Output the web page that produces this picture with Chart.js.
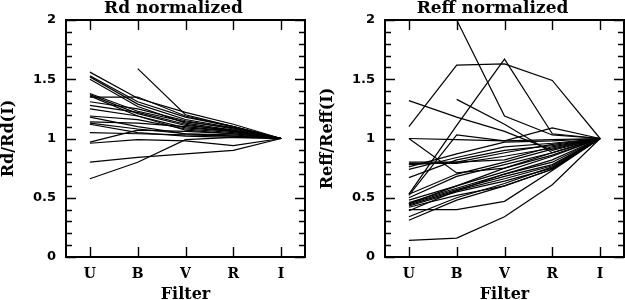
<!DOCTYPE html>
<html><head><meta charset="utf-8">
<script src="https://cdn.jsdelivr.net/npm/chart.js@4"></script>
<style>
html,body{margin:0;padding:0;background:#fff;}
#wrap{position:relative;width:625px;height:300px;overflow:hidden;background:#fff;}
#c1{position:absolute;left:0;top:0;}
#c2{position:absolute;left:312px;top:0;}
</style></head><body>
<div id="wrap"><canvas id="c1" width="312" height="300"></canvas><canvas id="c2" width="313" height="300"></canvas></div>
<script>
const filters = ['U','B','V','R','I'];
const yTicks = [0,0.1,0.2,0.3,0.4,0.5,0.6,0.7,0.8,0.9,1.0,1.1,1.2,1.3,1.4,1.5,1.6,1.7,1.8,1.9,2.0];

const rdCurves = [
  [1.56, 1.34, 1.22, 1.12, 1],
  [1.53, 1.31, 1.18, 1.10, 1],
  [1.52, 1.29, 1.16, 1.09, 1],
  [1.50, 1.27, 1.13, 1.07, 1],
  [1.38, 1.23, 1.14, 1.09, 1],
  [1.37, 1.21, 1.11, 1.07, 1],
  [1.36, 1.19, 1.09, 1.06, 1],
  [1.35, 1.35, 1.19, 1.10, 1],
  [1.31, 1.25, 1.15, 1.08, 1],
  [1.28, 1.22, 1.12, 1.06, 1],
  [1.25, 1.19, 1.07, 1.04, 1],
  [1.19, 1.16, 1.08, 1.05, 1],
  [1.18, 1.10, 1.04, 1.03, 1],
  [1.14, 1.13, 1.10, 1.06, 1],
  [1.13, 1.08, 1.04, 1.02, 1],
  [1.12, 1.05, 1.02, 1.01, 1],
  [1.05, 1.04, 1.03, 1.02, 1],
  [0.97, 1.07, 1.06, 1.04, 1],
  [0.96, 0.99, 0.98, 0.94, 1],
  [0.80, 0.84, 0.87, 0.90, 1],
  [0.66, 0.80, 0.99, 1.01, 1],
  [null, 1.59, 1.20, 1.10, 1]
];

const reffCurves = [
  [1.10, 1.62, 1.63, 1.49, 1],
  [0.53, 1.11, 1.67, 1.04, 1],
  [null, 2.00, 1.19, 1.03, 1],
  [1.32, 1.18, 1.06, 0.90, 1],
  [null, 1.33, 1.12, 0.88, 1],
  [1.00, 0.99, 0.98, 0.99, 1],
  [1.00, 0.71, 0.75, 0.86, 1],
  [0.52, 1.03, 0.98, 1.09, 1],
  [0.80, 0.80, 0.88, 0.95, 1],
  [0.79, 0.79, 0.85, 0.92, 1],
  [0.76, 0.87, 0.97, 0.98, 1],
  [0.74, 0.84, 0.93, 0.96, 1],
  [0.67, 0.82, 0.90, 0.94, 1],
  [0.53, 0.70, 0.80, 0.91, 1],
  [0.50, 0.68, 0.78, 0.88, 1],
  [0.48, 0.60, 0.72, 0.85, 1],
  [0.46, 0.58, 0.70, 0.80, 1],
  [0.45, 0.57, 0.68, 0.78, 1],
  [0.44, 0.56, 0.66, 0.77, 1],
  [0.43, 0.55, 0.64, 0.75, 1],
  [0.42, 0.52, 0.60, 0.74, 1],
  [0.40, 0.40, 0.47, 0.73, 1],
  [0.39, 0.56, 0.70, 0.82, 1],
  [0.34, 0.50, 0.62, 0.76, 1],
  [0.31, 0.48, 0.60, 0.74, 1],
  [0.14, 0.16, 0.34, 0.61, 1],
  [0.45, 0.60, 0.75, 0.88, 1],
  [0.78, 0.80, 0.82, 0.93, 1]
];

const framePlugin = {
  id: 'frame',
  afterDatasetsDraw(chart, args, opts) {
    const {ctx, chartArea: a, scales: {x, y}} = chart;
    ctx.save();
    ctx.strokeStyle = '#000';
    ctx.lineWidth = 1.4;
    ctx.beginPath();
    y.ticks.forEach(t => {
      const py = Math.round(y.getPixelForValue(t.value)) + 0.5;
      const major = Math.abs(t.value * 2 - Math.round(t.value * 2)) < 1e-6;
      const len = major ? 10 : 6;
      ctx.moveTo(a.left, py); ctx.lineTo(a.left + len, py);
      ctx.moveTo(a.right, py); ctx.lineTo(a.right - len, py);
    });
    x.ticks.forEach((t, i) => {
      const px = Math.round(x.getPixelForTick(i)) + 0.5;
      ctx.moveTo(px, a.bottom); ctx.lineTo(px, a.bottom - 10);
      ctx.moveTo(px, a.top); ctx.lineTo(px, a.top + 10);
    });
    ctx.stroke();
    ctx.lineWidth = 2;
    ctx.strokeRect(a.left, a.top, a.right - a.left, a.bottom - a.top);
    ctx.fillStyle = '#000';
    ctx.font = 'bold 17px "DejaVu Serif"';
    ctx.textAlign = 'center';
    ctx.textBaseline = 'alphabetic';
    ctx.fillText(opts.title, (a.left + a.right) / 2 + opts.dx, 13);
    ctx.restore();
  }
};

function makeChart(id, curves, yTitle, title, yWidth, padRight, yTitlePad) {
  const datasets = curves.map(c => ({
    data: c, borderColor: '#000', borderWidth: 1.2, pointRadius: 0,
    fill: false, tension: 0, clip: 2
  }));
  return new Chart(document.getElementById(id), {
    type: 'line',
    data: {labels: filters, datasets},
    options: {
      responsive: false, animation: false, devicePixelRatio: 1,
      layout: {padding: {top: 20, right: padRight, left: 0, bottom: 0}},
      plugins: {legend: {display: false}, tooltip: {enabled: false}, title: {display: false},
        frame: {title: title, dx: -12}},
      scales: {
        x: {
          type: 'category', offset: true,
          afterFit(s) { s.height = 43; },
          grid: {display: false, drawTicks: false}, border: {display: false},
          ticks: {padding: 9, color: '#000', maxRotation: 0, autoSkip: false,
            font: {family: '"DejaVu Serif"', weight: 'bold', size: 14}},
          title: {display: true, text: 'Filter', color: '#000', padding: {top: 0, bottom: 0},
            font: {family: '"DejaVu Serif"', weight: 'bold', size: 16, lineHeight: 0.7}}
        },
        y: {
          min: 0, max: 2,
          afterFit(s) { s.width = yWidth; },
          afterBuildTicks(s) { s.ticks = yTicks.map(v => ({value: v})); },
          grid: {display: false, drawTicks: false}, border: {display: false},
          ticks: {padding: 10, color: '#000', autoSkip: false,
            font: {family: '"DejaVu Sans"', weight: 'bold', size: 13},
            callback: (v) => {
              const r = Math.round(v * 10) / 10;
              return Math.abs(r * 2 - Math.round(r * 2)) < 1e-6 ? String(r) : '';
            }},
          title: {display: true, text: yTitle, color: '#000', padding: {top: yTitlePad, bottom: 0},
            font: {family: '"DejaVu Serif"', weight: 'bold', size: 16, lineHeight: 1}}
        }
      }
    },
    plugins: [framePlugin]
  });
}

makeChart('c1', rdCurves, 'Rd/Rd(I)', 'Rd normalized', 66, 7, 0.5);
makeChart('c2', reffCurves, 'Reff/Reff(I)', 'Reff normalized', 73, 1, 7.5);
</script>
</body></html>
